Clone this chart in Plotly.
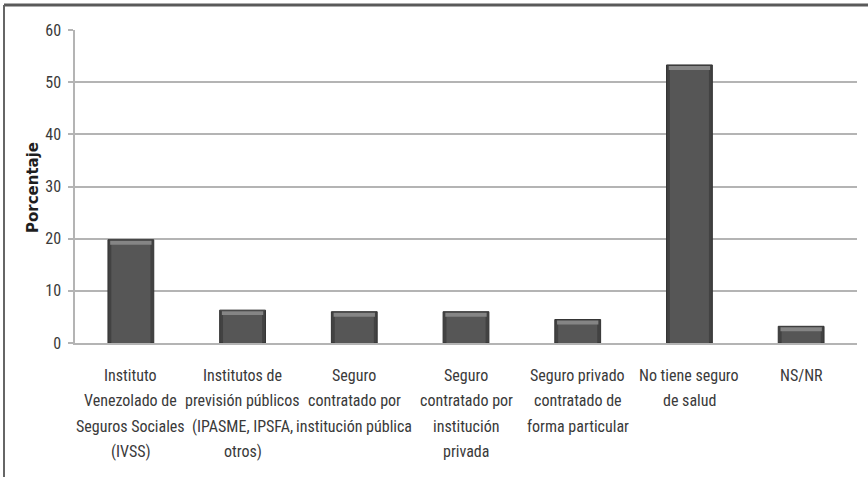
import plotly.graph_objects as go

# Health-insurance coverage, percentage of respondents
categories = [
    "Instituto Venezolado de Seguros Sociales (IVSS)",
    "Institutos de previsión públicos (IPASME, IPSFA, otros)",
    "Seguro contratado por institución pública",
    "Seguro contratado por institución privada",
    "Seguro privado contratado de forma particular",
    "No tiene seguro de salud",
    "NS/NR",
]
label_lines = [
    ["Instituto", "Venezolado de", "Seguros Sociales", "(IVSS)"],
    ["Institutos de", "previsión públicos", "(IPASME, IPSFA,", "otros)"],
    ["Seguro", "contratado por", "institución pública"],
    ["Seguro", "contratado por", "institución", "privada"],
    ["Seguro privado", "contratado de", "forma particular"],
    ["No tiene seguro", "de salud"],
    ["NS/NR"],
]
values = [19.8, 6.3, 6.0, 6.0, 4.5, 53.3, 3.2]
y_ticks = [0, 10, 20, 30, 40, 50, 60]

W, H = 868, 477
M_L, M_R, M_T, M_B = 75, 11, 30, 134
plot_w = W - M_L - M_R
plot_h = H - M_T - M_B

BAR_W = 0.41
GRID = "#b4b4b4"
TEXT = "#3a3a3a"
LABEL_FONT = "Roboto Condensed, DejaVu Sans Condensed, Roboto, sans-serif"

fig = go.Figure()

# Dark outer body of each bar
fig.add_trace(go.Bar(
    x=categories, y=values, width=BAR_W,
    marker=dict(color="#424242", line=dict(color="#333333", width=1)),
    hoverinfo="x+y", showlegend=False,
))

# Slightly lighter core for a rounded look
fig.add_trace(go.Bar(
    x=categories, y=[v - 0.4 for v in values], width=BAR_W - 0.06,
    marker=dict(color="#565656", line=dict(width=0)),
    hoverinfo="skip", showlegend=False,
))

# Light bevel along the top edge
cap = 0.75
fig.add_trace(go.Bar(
    x=categories, y=[cap] * len(values), base=[v - cap - 0.2 for v in values],
    width=BAR_W - 0.04,
    marker=dict(color="#858585", line=dict(width=0)),
    hoverinfo="skip", showlegend=False,
))

fig.update_layout(
    width=W, height=H,
    margin=dict(l=M_L, r=M_R, t=M_T, b=M_B),
    paper_bgcolor="white", plot_bgcolor="white",
    barmode="overlay",
    font=dict(family=LABEL_FONT, color=TEXT),
    xaxis=dict(
        type="category", categoryarray=categories,
        showticklabels=False, showgrid=False, zeroline=False,
        showline=True, linecolor=GRID, linewidth=1.5,
        range=[-0.5, len(categories) - 0.5],
    ),
    yaxis=dict(
        range=[0, 60], tickvals=y_ticks,
        showgrid=True, gridcolor=GRID, gridwidth=1.5,
        zeroline=False, showline=True, linecolor=GRID, linewidth=1.5,
        ticks="outside", ticklen=5, tickcolor=GRID, tickwidth=1.5,
        ticklabelstandoff=4,
        tickfont=dict(family=LABEL_FONT, size=16, color=TEXT),
    ),
)

# Multi-line category labels, one annotation per line
line_px = [375, 400.5, 426, 451.5]
for cat, lines in zip(categories, label_lines):
    for i, txt in enumerate(lines):
        fig.add_annotation(
            x=cat, xref="x",
            y=-(line_px[i] - (M_T + plot_h)) / plot_h, yref="paper",
            text=txt, showarrow=False, xanchor="center", yanchor="middle",
            font=dict(family=LABEL_FONT, size=16, color=TEXT),
        )

# Axis title
fig.add_annotation(
    x=-(M_L - 33) / plot_w, xref="paper",
    y=(M_T + plot_h - 188) / plot_h, yref="paper",
    text="<b>Porcentaje</b>", textangle=-90, showarrow=False,
    xanchor="center", yanchor="middle",
    font=dict(family="DejaVu Sans, sans-serif", size=15, color="#1e1e1e"),
)

# Frame along the top and left edges
top_y = (M_T + plot_h - 5) / plot_h
left_x = -(M_L - 4) / plot_w
fig.add_shape(type="line", xref="paper", yref="paper",
              x0=left_x, x1=1.2, y0=top_y, y1=top_y,
              line=dict(color="#5a5a5a", width=3))
fig.add_shape(type="line", xref="paper", yref="paper",
              x0=left_x, x1=left_x, y0=top_y, y1=-0.6,
              line=dict(color="#666666", width=2))

fig.write_html("out.html")
